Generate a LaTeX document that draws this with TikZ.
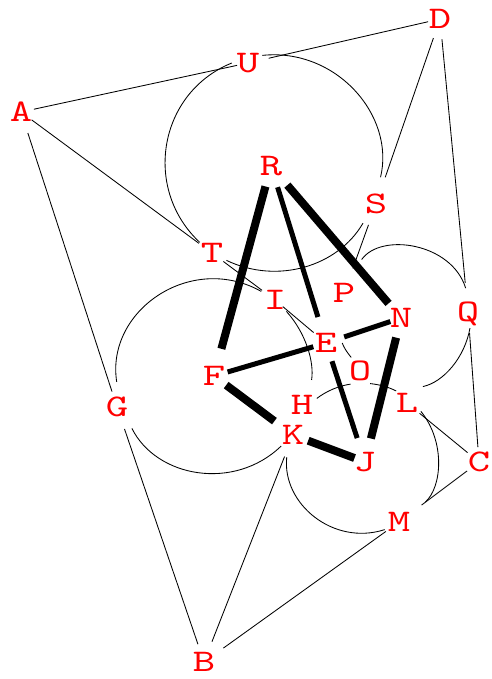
\documentclass[tikz,border=0pt]{standalone}
\usepackage{fontspec}
\newfontfamily\labfont[FakeStretch=1.35]{lmmono10-regular.otf}
\begin{document}
\begin{tikzpicture}[x=1pt,y=1pt,
  lab/.style={circle,minimum size=32pt,inner sep=0pt,text=red,
    text height=19pt,text depth=0pt,font=\fontsize{31.5}{31.5}\labfont},
  ln/.style={line width=0.85pt},
  hv/.style={line width=8pt},
  md/.style={line width=5pt}]
\useasboundingbox (0,0) rectangle (491,-679);
\node[lab] (A) at (21,-112) {A};
\node[lab] (U) at (248,-63) {U};
\node[lab] (D) at (440,-19) {D};
\node[lab] (R) at (271,-166) {R};
\node[lab] (S) at (376,-204) {S};
\node[lab] (T) at (212,-253) {T};
\node[lab] (I) at (275,-300) {I};
\node[lab] (P) at (344,-293) {P};
\node[lab] (N) at (401,-318) {N};
\node[lab] (Q) at (468,-312) {Q};
\node[lab] (E) at (326,-343) {E};
\node[lab] (O) at (360,-371) {O};
\node[lab] (F) at (214,-376) {F};
\node[lab] (G) at (117,-407) {G};
\node[lab] (H) at (302,-405) {H};
\node[lab] (L) at (407,-403) {L};
\node[lab] (K) at (293,-435) {K};
\node[lab] (J) at (365,-462) {J};
\node[lab,minimum size=26pt] (C) at (479,-462) {C};
\node[lab] (M) at (399,-522) {M};
\node[lab,minimum size=24pt] (B) at (204,-662) {B};
% straight thin edges
\draw[ln,shorten <=-3pt,shorten >=-5pt] (A) -- (U);
\draw[ln,shorten <=5pt,shorten >=-4pt] (U) -- (D);
\draw[ln,shorten <=-3pt] (A) -- (T);
\draw[ln,shorten <=6pt] (A) -- (G);
\draw[ln,shorten <=4pt,shorten >=12pt] (D) -- (S);
\draw[ln,shorten <=4pt,shorten >=13pt] (D) -- (Q);
\draw[ln,shorten <=5pt] (Q) -- (C);
\draw[ln] (L) -- (C);
\draw[ln,shorten >=12pt] (C) -- (M);
\draw[ln,shorten >=9pt] (M) -- (B);
\draw[ln,shorten <=7pt,shorten >=7pt] (K) -- (B);
\draw[ln,shorten <=7pt,shorten >=4pt] (G) -- (B);
\draw[ln,shorten <=6pt,shorten >=10pt] (S) -- (P);
\draw[ln,shorten <=-2pt] (T) -- (I);
\draw[ln,shorten <=-6pt] (I) -- (E);
% thick edges
\draw[hv,shorten <=5pt,shorten >=12pt] (R) -- (F);
\draw[md,shorten <=6pt,shorten >=11pt] (R) -- (E);
\draw[hv,shorten <=9pt,shorten >=3pt] (R) -- (N);
\draw[md,shorten <=3pt,shorten >=-5pt] (E) -- (N);
\draw[md,shorten <=-2pt,shorten >=-3pt] (F) -- (E);
\draw[hv,shorten <=-1pt,shorten >=7pt] (F) -- (K);
\draw[hv,shorten >=-5pt] (K) -- (J);
\draw[md,shorten <=3pt,shorten >=9pt] (E) -- (J);
\draw[hv,shorten <=4pt,shorten >=8pt] (N) -- (J);
% arcs round R
\draw[ln,shorten >=11pt] (U.28) to[out=6,in=76.5,looseness=1.08] (S.83);
\draw[ln] (U.180) to[out=202,in=137,looseness=1.11] (T.139);
\draw[ln,shorten >=7pt] (T.-27) to[out=-25.6,in=240,looseness=0.99] (S.234);
% arcs round F
\draw[ln,shorten <=9pt] (G.86) to[out=99,in=150.7,looseness=1.19] (I.148);
\draw[ln,shorten >=11pt] (I.-45) to[out=-48,in=81,looseness=0.9] (H.61);
\draw[ln,shorten <=10pt] (G.-50) to[out=-63.5,in=224,looseness=1.07] (K.223);
% arcs round J
\draw[ln,shorten <=7pt] (K.250) to[out=264,in=198,looseness=1.1] (M.208);
\draw[ln,shorten >=17pt] (L.-31) to[out=-51,in=42,looseness=0.985] (M.32);
\draw[ln] (H.24) to[out=37,in=189,looseness=0.87] (O.234);
\draw[ln] (O.-51) to[out=-6,in=153,looseness=0.86] (L.132);
% arcs round N
\draw[ln,shorten <=22pt,shorten >=8pt] (P.72) to[out=55,in=107,looseness=1.18] (Q.90);
\draw[ln,shorten >=9pt] (Q.-83) to[out=-100,in=12,looseness=0.93] (L.64);
\draw[ln] (E.east) to[out=-68,in=128] (O.123);
\end{tikzpicture}
\end{document}
